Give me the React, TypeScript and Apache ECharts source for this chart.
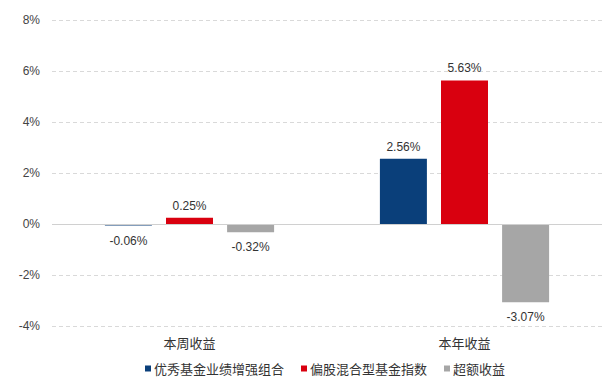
import React, { useEffect, useRef } from "react";
import * as echarts from "echarts";

const categories = ["本周收益", "本年收益"];
const seriesNames = ["优秀基金业绩增强组合", "偏股混合型基金指数", "超额收益"];
const portfolio = [-0.06, 2.56];
const index = [0.25, 5.63];
const excess = [-0.32, -3.07];
const colors = ["#0a3f7a", "#d9000f", "#a6a6a6"];
const yTicks = { min: -4, max: 8, interval: 2 };

export default function App() {
  const ref = useRef<HTMLDivElement>(null);
  useEffect(() => {
    if (!ref.current) return;
    const chart = echarts.init(ref.current, undefined, { renderer: "svg" });
    const font = "'Noto Sans CJK SC', 'Liberation Sans', sans-serif";
    const values = [portfolio, index, excess];
    const series: any[] = values.map((vals, i) => ({
      name: seriesNames[i],
      type: "bar",
      data: vals.map((v) => ({
        value: v,
        label: { position: v < 0 ? "bottom" : "top", distance: v < 0 ? 9 : 6 },
      })),
      barWidth: 47,
      barGap: "30%",
      itemStyle: { color: colors[i] },
      label: {
        show: true,
        formatter: (p: any) => p.value.toFixed(2) + "%",
        fontSize: 12,
        color: "#333",
        fontFamily: "'Liberation Sans', Arial, sans-serif",
      },
    }));
    series[0].markLine = {
      silent: true,
      symbol: "none",
      label: { show: false },
      lineStyle: { color: "#d0d0d0", type: "solid", width: 1 },
      data: [{ yAxis: 0 }],
    };
    chart.setOption({
      animation: false,
      textStyle: { fontFamily: font },
      grid: { left: 52, right: 7, top: 20, bottom: 55 },
      legend: {
        data: seriesNames,
        top: 357,
        left: 140,
        itemWidth: 6,
        itemHeight: 6,
        itemGap: 17,
        icon: "rect",
        textStyle: { fontSize: 13, color: "#333", fontFamily: font, padding: [0, 0, 0, -2] },
      },
      xAxis: {
        type: "category",
        data: categories,
        axisLine: { show: false, onZero: false },
        axisTick: { show: false },
        axisLabel: { fontSize: 13, color: "#333", margin: 10, fontFamily: font },
      },
      yAxis: {
        type: "value",
        min: yTicks.min,
        max: yTicks.max,
        interval: yTicks.interval,
        axisLabel: {
          formatter: (v: number) => v + "%",
          fontSize: 12,
          color: "#444",
          margin: 12,
          fontFamily: "'Liberation Sans', Arial, sans-serif",
        },
        axisLine: { show: false },
        axisTick: { show: false },
        splitLine: { lineStyle: { color: "#d9d9d9", type: [4, 3] } },
      },
      series,
    });
    return () => chart.dispose();
  }, []);
  return (
    <div
      ref={ref}
      style={{ position: "absolute", left: 0, top: 0, width: 609, height: 381 }}
    />
  );
}
